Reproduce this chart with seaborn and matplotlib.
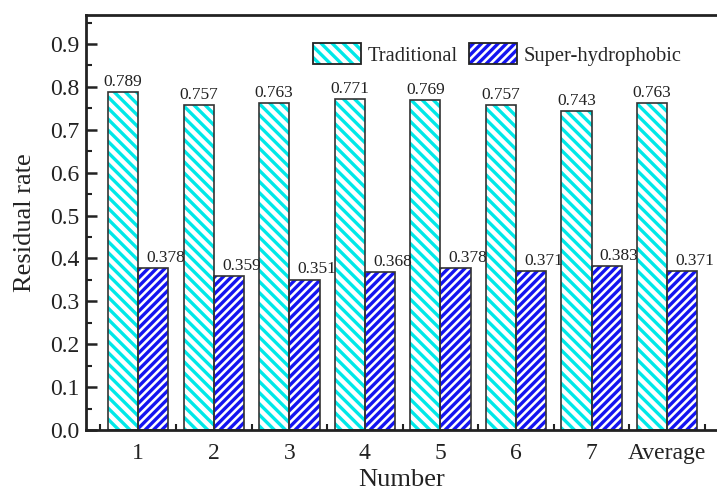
import matplotlib
matplotlib.use("Agg")
import matplotlib.pyplot as plt
import seaborn as sns
import pandas as pd
import numpy as np
from matplotlib.patches import Patch
from matplotlib.legend_handler import HandlerTuple

categories = ["1", "2", "3", "4", "5", "6", "7", "Average"]
traditional = [0.789, 0.757, 0.763, 0.771, 0.769, 0.757, 0.743, 0.763]
superhydro = [0.378, 0.359, 0.351, 0.368, 0.378, 0.371, 0.383, 0.371]
series = ["Traditional", "Super-hydrophobic"]

df = pd.DataFrame({
    "Number": categories * 2,
    "Residual rate": traditional + superhydro,
    "Series": [series[0]] * len(categories) + [series[1]] * len(categories),
})

sns.set_theme(style="white")
plt.rcParams["font.family"] = ["Liberation Serif", "DejaVu Serif"]
plt.rcParams["hatch.linewidth"] = 2.4

fig = plt.figure(figsize=(7.17, 4.91), dpi=100)
ax = fig.add_axes([0.12, 0.124, 0.88, 0.845])

hatch_cols = ["#00e8e8", "#1414f0"]
hatches = ["\\\\\\", "////"]

sns.barplot(data=df, x="Number", y="Residual rate", hue="Series", order=categories,
            hue_order=series, palette=["white", "white"], width=0.8, ax=ax,
            legend=False, errorbar=None)
for cont, hc, h in zip(ax.containers, hatch_cols, hatches):
    for p in cont:
        p.set_hatch(h)
        p.set_edgecolor(hc)
        p.set_linewidth(0)
n_fill = len(ax.containers)
sns.barplot(data=df, x="Number", y="Residual rate", hue="Series", order=categories,
            hue_order=series, fill=False, width=0.8, ax=ax, legend=False,
            errorbar=None, palette=["#333333", "#333333"], linewidth=1.2)

for i, cont in enumerate(ax.containers[:n_fill]):
    vals = traditional if i == 0 else superhydro
    xoff = 0 if i == 0 else 9
    for p, v in zip(cont, vals):
        ax.annotate(f"{v:.3f}", (p.get_x() + p.get_width() / 2, p.get_height()),
                    xytext=(xoff, 1.5), textcoords="offset points",
                    ha="center", va="bottom", fontsize=12.5, color="#222222")

ax.set_ylim(0, 0.967)
ax.set_xlim(-0.69, 7.66)
ax.set_yticks(np.arange(0, 0.91, 0.1))
ax.set_yticklabels([f"{t:.1f}" for t in np.arange(0, 0.91, 0.1)])
ax.set_yticks(np.arange(0.05, 0.96, 0.1), minor=True)
ax.set_xticks(np.arange(-0.5, 7.6, 1.0), minor=True)
ax.tick_params(axis="both", which="major", direction="in", length=8, width=1.8,
               labelsize=17, colors="#222222", pad=5)
ax.tick_params(axis="x", which="major", length=0, pad=9)
ax.tick_params(axis="both", which="minor", direction="in", length=4, width=1.5,
               color="#222222")
ax.tick_params(left=True, bottom=True, which="both")
for s in ax.spines.values():
    s.set_linewidth(2)
    s.set_color("#222222")
ax.spines["right"].set_visible(False)

ax.set_xlabel("Number", fontsize=19, color="#222222", labelpad=4)
ax.set_ylabel("Residual rate", fontsize=19, color="#222222", labelpad=10)

handles = [(Patch(facecolor="white", edgecolor=hc, hatch=h, linewidth=0),
            Patch(fill=False, edgecolor="#222222", linewidth=1.3))
           for hc, h in zip(hatch_cols, hatches)]
leg = ax.legend(handles, series, loc="upper right", bbox_to_anchor=(0.957, 0.952), ncol=2,
                frameon=False, fontsize=14.8, handlelength=2.3, handleheight=1.2,
                columnspacing=0.55, handletextpad=0.35, borderaxespad=0,
                handler_map={tuple: HandlerTuple(ndivide=1, pad=0)})

fig.savefig("out.png", dpi=100)
